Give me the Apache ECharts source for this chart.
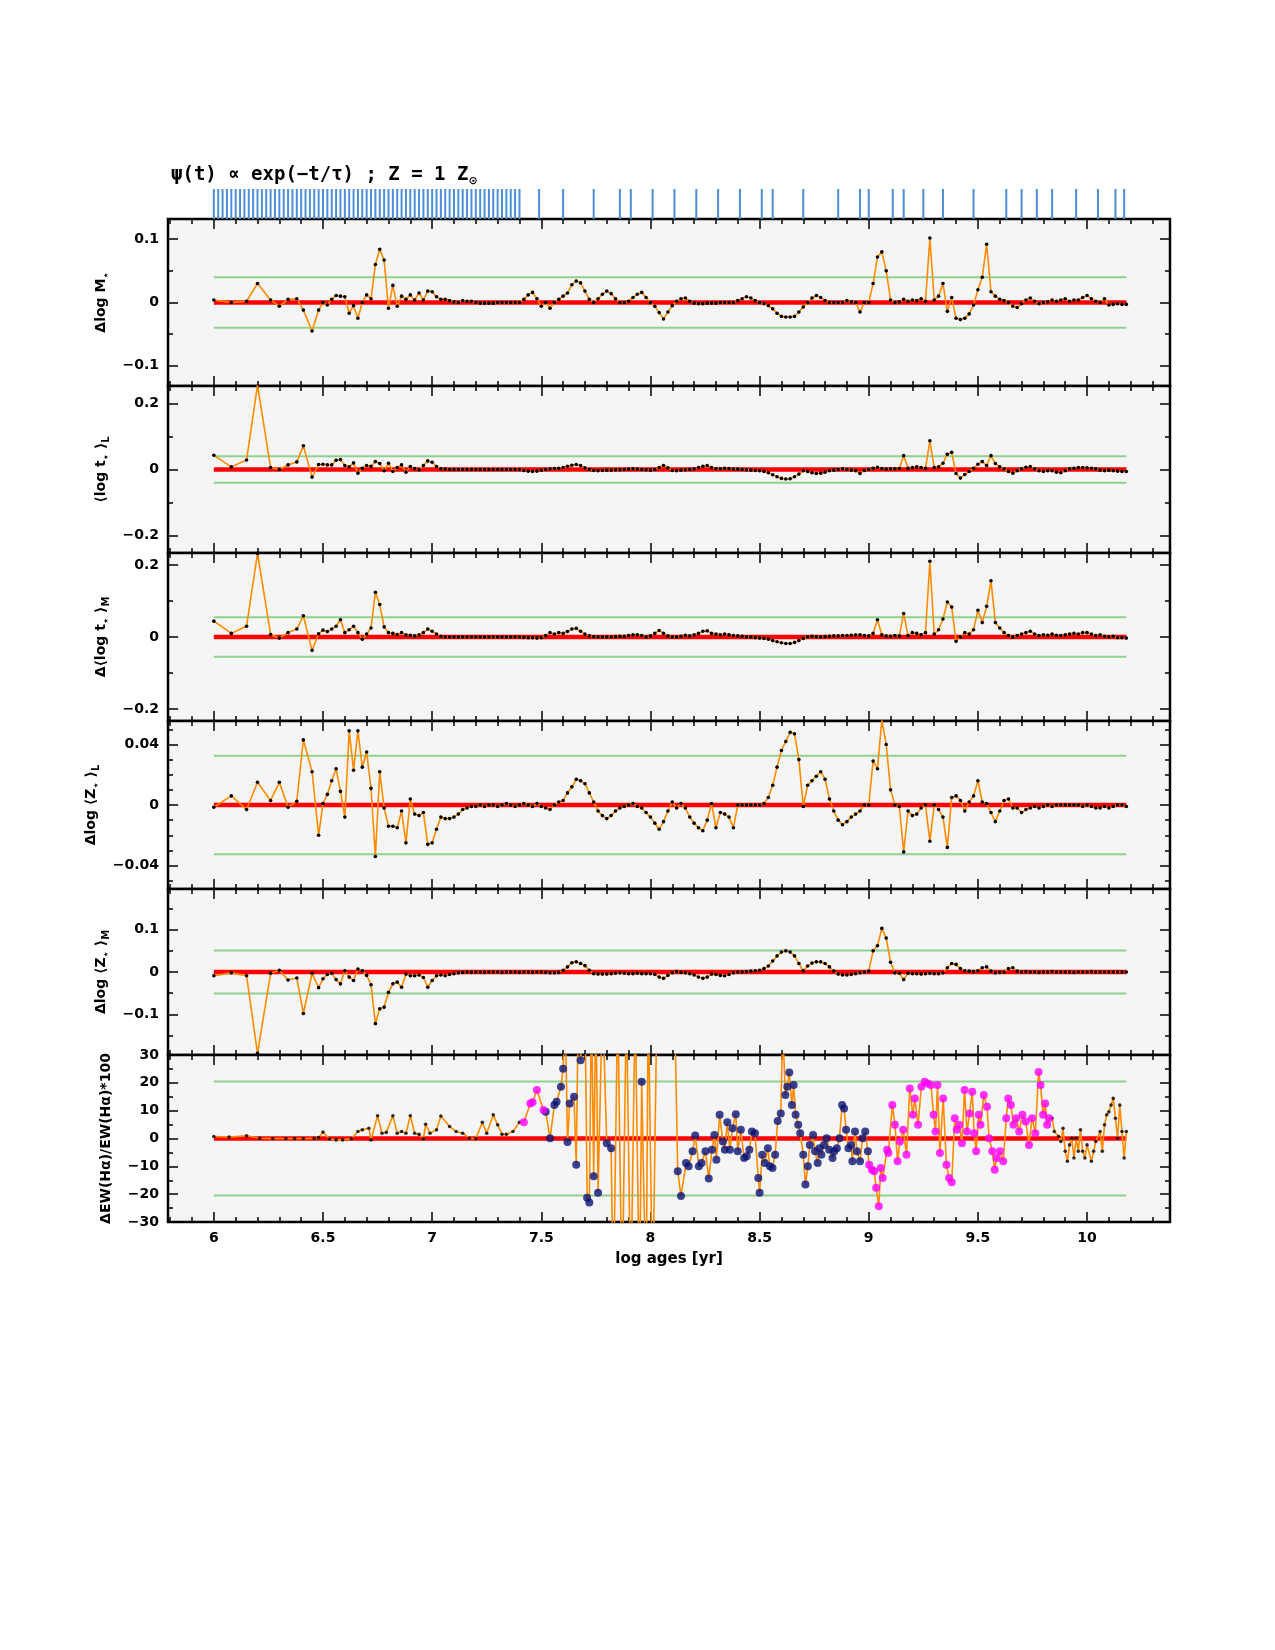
<!DOCTYPE html>
<html>
<head>
<meta charset="utf-8">
<script src="https://cdn.jsdelivr.net/npm/echarts@6/dist/echarts.min.js"></script>
<style>
  html, body { margin: 0; padding: 0; background: #fff; }
  #grafico { width: 1275px; height: 1650px; }
</style>
</head>
<body>
<div id="grafico"></div>
<script>
// Edades (log yr) comunes a los paneles 1-5
const ages = [6.00, 6.08, 6.15, 6.20, 6.26, 6.30, 6.34, 6.38, 6.41, 6.45, 6.48,
  6.50, 6.52, 6.54, 6.56, 6.58, 6.60, 6.62, 6.64, 6.66, 6.68,
  6.70, 6.72, 6.74, 6.76, 6.78, 6.80, 6.82, 6.84, 6.86, 6.88,
  6.90, 6.92, 6.94, 6.96, 6.98, 7.00, 7.02, 7.04, 7.06, 7.08,
  7.10, 7.12, 7.14, 7.16, 7.18, 7.20, 7.22, 7.24, 7.26, 7.28,
  7.30, 7.32, 7.34, 7.36, 7.38, 7.40, 7.42, 7.44, 7.46, 7.48,
  7.50, 7.52, 7.54, 7.56, 7.58, 7.60, 7.62, 7.64, 7.66, 7.68,
  7.70, 7.72, 7.74, 7.76, 7.78, 7.80, 7.82, 7.84, 7.86, 7.88,
  7.90, 7.92, 7.94, 7.96, 7.98, 8.00, 8.02, 8.04, 8.06, 8.08,
  8.10, 8.12, 8.14, 8.16, 8.18, 8.20, 8.22, 8.24, 8.26, 8.28,
  8.30, 8.32, 8.34, 8.36, 8.38, 8.40, 8.42, 8.44, 8.46, 8.48,
  8.50, 8.52, 8.54, 8.56, 8.58, 8.60, 8.62, 8.64, 8.66, 8.68,
  8.70, 8.72, 8.74, 8.76, 8.78, 8.80, 8.82, 8.84, 8.86, 8.88,
  8.90, 8.92, 8.94, 8.96, 8.98, 9.00, 9.02, 9.04, 9.06, 9.08,
  9.10, 9.12, 9.14, 9.16, 9.18, 9.20, 9.22, 9.24, 9.26, 9.28,
  9.30, 9.32, 9.34, 9.36, 9.38, 9.40, 9.42, 9.44, 9.46, 9.48,
  9.50, 9.52, 9.54, 9.56, 9.58, 9.60, 9.62, 9.64, 9.66, 9.68,
  9.70, 9.72, 9.74, 9.76, 9.78, 9.80, 9.82, 9.84, 9.86, 9.88,
  9.90, 9.92, 9.94, 9.96, 9.98, 10.00, 10.02, 10.04, 10.06, 10.08,
  10.10, 10.12, 10.14, 10.16, 10.18];

const dLogM = [0.004, 0.0, 0.002, 0.030, 0.004, -0.006, 0.005, 0.006, -0.012, -0.045, -0.012,
  0.0, -0.004, 0.005, 0.011, 0.010, 0.009, -0.017, -0.005, -0.025, 0.0,
  0.012, 0.006, 0.060, 0.084, 0.067, -0.009, 0.027, -0.006, 0.010, 0.005,
  0.012, 0.004, 0.015, 0.004, 0.018, 0.017, 0.009, 0.005, 0.005, 0.003,
  0.001, 0.0, 0.003, 0.002, 0.002, 0.0, -0.001, -0.001, -0.001, -0.001,
  0.0, 0.0, 0.0, 0.0, 0.0, 0.0, 0.005, 0.012, 0.016, 0.006,
  -0.006, 0.0, -0.009, 0.0, 0.005, 0.010, 0.015, 0.028, 0.034, 0.031,
  0.018, 0.005, 0.0, 0.006, 0.013, 0.018, 0.014, 0.006, 0.0, 0.0,
  0.002, 0.008, 0.013, 0.016, 0.008, 0.0, -0.006, -0.016, -0.026, -0.015,
  -0.005, 0.002, 0.006, 0.007, 0.002, -0.001, -0.002, -0.002, -0.001, -0.001,
  -0.001, 0.0, 0.0, 0.0, 0.0, 0.003, 0.006, 0.009, 0.007, 0.003,
  0.0, -0.002, -0.005, -0.010, -0.017, -0.022, -0.023, -0.023, -0.022, -0.015,
  -0.007, 0.0, 0.007, 0.011, 0.008, 0.003, 0.0, 0.0, 0.0, 0.0,
  0.003, 0.001, 0.0, -0.015, 0.0, 0.0, 0.030, 0.072, 0.080, 0.050,
  0.004, 0.0, 0.001, 0.005, 0.002, 0.004, 0.003, 0.006, 0.002, 0.102,
  0.004, 0.010, 0.030, -0.014, 0.008, -0.025, -0.027, -0.025, -0.018, -0.004,
  0.020, 0.040, 0.092, 0.017, 0.010, 0.005, 0.003, 0.0, -0.006, -0.008,
  -0.002, 0.004, 0.007, 0.002, -0.002, 0.0, 0.001, 0.004, 0.002, 0.004,
  0.006, 0.002, 0.004, 0.004, 0.008, 0.011, 0.006, 0.002, 0.0, 0.006,
  -0.004, -0.003, -0.002, -0.003, -0.003];

const logTL = [0.043, 0.008, 0.029, 0.256, 0.006, 0.0, 0.014, 0.023, 0.072, -0.023, 0.015,
  0.016, 0.014, 0.014, 0.028, 0.030, 0.012, 0.008, 0.020, -0.011, 0.004,
  0.012, 0.010, 0.024, 0.018, -0.004, 0.019, -0.006, 0.006, 0.014, -0.008,
  0.009, 0.003, -0.001, 0.012, 0.026, 0.022, 0.009, 0.002, 0.001, 0.0,
  0.0, 0.0, 0.0, 0.0, 0.0, 0.0, 0.0, 0.0, 0.0, 0.0,
  0.0, 0.0, 0.0, 0.0, 0.0, 0.0, -0.003, -0.005, -0.006, -0.005,
  -0.002, 0.0, 0.002, 0.003, 0.004, 0.006, 0.010, 0.013, 0.015, 0.012,
  0.005, 0.0, -0.003, -0.004, -0.003, -0.002, -0.002, -0.001, -0.001, 0.0,
  0.001, 0.002, 0.001, 0.0, -0.001, -0.002, 0.0, 0.006, 0.012, 0.005,
  -0.003, -0.004, -0.002, -0.001, 0.0, 0.002, 0.006, 0.010, 0.012, 0.006,
  0.002, 0.002, 0.004, 0.003, 0.001, 0.001, 0.0, -0.001, -0.002, -0.003,
  -0.004, -0.006, -0.010, -0.016, -0.022, -0.027, -0.029, -0.028, -0.022, -0.014,
  -0.004, -0.006, -0.010, -0.012, -0.011, -0.008, -0.004, -0.002, 0.0, 0.002,
  0.0, -0.002, -0.004, -0.012, -0.003, 0.0, 0.004, 0.007, 0.003, 0.001,
  0.002, 0.002, 0.003, 0.042, 0.004, 0.006, 0.008, 0.006, 0.004, 0.087,
  0.006, 0.008, 0.019, 0.046, 0.052, -0.012, -0.026, -0.015, -0.006, 0.004,
  0.016, 0.024, 0.012, 0.042, 0.018, 0.008, 0.002, -0.006, -0.011, -0.004,
  0.002, 0.007, 0.009, 0.002, -0.004, -0.006, -0.004, -0.004, -0.008, -0.010,
  -0.004, 0.002, 0.004, 0.006, 0.006, 0.005, 0.004, 0.002, -0.002, -0.004,
  -0.002, -0.004, -0.005, -0.006, -0.006];

const dLogTM = [0.044, 0.010, 0.030, 0.232, 0.007, -0.003, 0.012, 0.022, 0.059, -0.037, 0.009,
  0.019, 0.015, 0.022, 0.030, 0.048, 0.012, 0.020, 0.030, 0.012, -0.006,
  0.008, 0.025, 0.124, 0.090, 0.028, 0.012, 0.010, 0.007, 0.012, 0.006,
  0.005, 0.003, 0.006, 0.012, 0.022, 0.016, 0.008, 0.002, 0.0, 0.0,
  0.0, 0.0, 0.0, 0.0, 0.0, 0.0, 0.0, 0.0, 0.0, 0.0,
  0.0, 0.0, 0.0, 0.0, 0.0, 0.0, -0.001, -0.002, -0.002, -0.003,
  -0.002, 0.004, 0.012, 0.008, 0.012, 0.010, 0.015, 0.022, 0.024, 0.016,
  0.008, 0.003, 0.001, 0.0, 0.0, 0.0, 0.0, 0.001, 0.002, 0.002,
  0.004, 0.006, 0.006, 0.004, 0.0, 0.003, 0.010, 0.018, 0.010, 0.003,
  0.0, 0.0, 0.002, 0.005, 0.003, 0.006, 0.010, 0.016, 0.017, 0.010,
  0.008, 0.006, 0.008, 0.006, 0.004, 0.003, 0.002, 0.0, 0.0, -0.002,
  -0.003, -0.004, -0.006, -0.010, -0.013, -0.016, -0.018, -0.018, -0.015, -0.010,
  -0.004, 0.0, 0.002, 0.001, 0.0, 0.001, 0.002, 0.003, 0.003, 0.004,
  0.004, 0.005, 0.006, 0.006, 0.004, 0.003, 0.010, 0.048, 0.006, 0.003,
  0.002, 0.004, 0.003, 0.065, 0.004, 0.012, 0.010, 0.006, 0.012, 0.210,
  0.008, 0.020, 0.050, 0.097, 0.083, -0.012, 0.0, 0.012, 0.008, 0.020,
  0.074, 0.040, 0.085, 0.156, 0.040, 0.025, 0.012, 0.004, 0.0, 0.004,
  0.008, 0.012, 0.016, 0.008, 0.004, 0.006, 0.005, 0.008, 0.005, 0.004,
  0.006, 0.008, 0.010, 0.008, 0.012, 0.012, 0.008, 0.004, 0.006, 0.002,
  0.0, 0.002, -0.002, -0.002, -0.003];

const dLogZL = [-0.0015, 0.006, -0.003, 0.015, 0.003, 0.015, -0.0015, 0.0025, 0.043, 0.022, -0.020,
  0.001, 0.007, 0.016, 0.024, 0.009, -0.008, 0.049, 0.023, 0.049, 0.025,
  0.035, 0.011, -0.034, 0.022, -0.002, -0.014, -0.014, -0.015, -0.004, -0.025,
  0.004, -0.006, -0.007, -0.005, -0.026, -0.025, -0.016, -0.008, -0.009, -0.009,
  -0.008, -0.006, -0.003, -0.002, -0.001, -0.001, 0.0, -0.001, 0.0, 0.0,
  -0.001, 0.0, 0.001, 0.0, -0.001, 0.0, 0.001, 0.0, -0.001, 0.001,
  -0.001, -0.002, -0.003, 0.0, 0.002, 0.003, 0.008, 0.012, 0.017, 0.016,
  0.014, 0.008, 0.002, -0.004, -0.007, -0.009, -0.007, -0.004, -0.002, -0.001,
  0.0, 0.001, -0.001, -0.002, -0.005, -0.008, -0.012, -0.016, -0.011, -0.004,
  0.002, -0.002, 0.001, -0.002, -0.008, -0.012, -0.015, -0.017, -0.010, 0.001,
  -0.015, -0.005, -0.006, -0.008, -0.015, 0.0, 0.0, 0.0, 0.0, 0.0,
  0.0, 0.001, 0.005, 0.013, 0.025, 0.036, 0.042, 0.048, 0.047, 0.030,
  -0.001, 0.013, 0.016, 0.019, 0.022, 0.017, 0.004, -0.004, -0.010, -0.013,
  -0.011, -0.008, -0.006, -0.004, 0.0, 0.0, 0.029, 0.024, 0.056, 0.040,
  0.010, 0.0, -0.001, -0.031, -0.004, -0.007, -0.006, -0.002, 0.0, -0.024,
  0.0, -0.003, -0.008, -0.028, 0.005, 0.006, 0.003, -0.004, 0.002, 0.006,
  0.016, 0.002, 0.001, -0.005, -0.011, -0.004, 0.003, 0.004, -0.002, -0.002,
  -0.005, -0.003, -0.002, -0.001, -0.002, -0.001, 0.0, -0.001, 0.0, 0.0,
  0.0, 0.0, 0.0, 0.0, -0.001, 0.0, -0.001, -0.002, -0.002, -0.001,
  -0.002, -0.001, 0.0, 0.0, -0.001];

const dLogZM = [-0.009, -0.002, -0.009, -0.192, -0.003, 0.004, -0.019, -0.014, -0.098, -0.003, -0.037,
  -0.016, -0.006, -0.003, -0.018, -0.028, 0.003, -0.012, -0.020, 0.007, 0.003,
  -0.008, -0.030, -0.122, -0.087, -0.083, -0.048, -0.028, -0.024, -0.036, -0.005,
  -0.009, -0.009, -0.007, -0.013, -0.036, -0.020, -0.009, -0.007, -0.009, -0.006,
  -0.004, -0.002, -0.001, 0.0, -0.001, 0.0, 0.0, -0.001, 0.0, 0.0,
  0.0, -0.001, 0.0, 0.0, 0.0, -0.001, 0.0, 0.0, -0.001, 0.0,
  0.0, -0.001, -0.002, -0.002, -0.001, 0.004, 0.012, 0.022, 0.024, 0.020,
  0.015, 0.004, -0.004, -0.005, -0.005, -0.005, -0.004, -0.003, -0.002, -0.003,
  -0.004, -0.004, -0.003, -0.004, -0.004, -0.004, -0.006, -0.012, -0.015, -0.008,
  -0.002, 0.001, -0.001, -0.002, -0.004, -0.007, -0.012, -0.015, -0.012, -0.005,
  -0.006, -0.008, -0.009, -0.006, -0.002, 0.0, 0.0, 0.001, 0.002, 0.003,
  0.004, 0.008, 0.014, 0.026, 0.038, 0.047, 0.050, 0.047, 0.038, 0.020,
  0.003, 0.014, 0.021, 0.024, 0.024, 0.020, 0.012, 0.002, -0.005, -0.007,
  -0.007, -0.006, -0.004, -0.002, 0.0, 0.002, 0.050, 0.062, 0.103, 0.080,
  0.023, -0.002, -0.003, -0.018, -0.003, -0.004, -0.004, -0.005, -0.004, -0.003,
  -0.004, -0.004, -0.002, 0.010, 0.020, 0.018, 0.008, 0.003, 0.002, 0.001,
  0.003, 0.010, 0.012, 0.002, -0.002, -0.001, 0.0, 0.008, 0.010, 0.002,
  0.0, 0.001, 0.0, 0.0, -0.001, 0.0, 0.0, 0.001, 0.0, 0.0,
  0.0, 0.0, -0.001, 0.0, 0.0, 0.0, 0.001, 0.0, 0.0, 0.0,
  0.0, 0.0, 0.0, 0.0, 0.0];

// Panel 6: EW(Halpha); puntos negros, azul marino, magenta y fuera de escala
const ewBlackAges = [6.00, 6.07, 6.15, 6.21, 6.27, 6.33, 6.37, 6.41, 6.46, 6.48,
  6.50, 6.53, 6.56, 6.59, 6.63, 6.66, 6.68, 6.71, 6.72, 6.75,
  6.77, 6.79, 6.82, 6.84, 6.86, 6.88, 6.90, 6.92, 6.94, 6.96,
  6.97, 6.99, 7.02, 7.04, 7.08, 7.11, 7.14, 7.17, 7.20, 7.23,
  7.25, 7.28, 7.30, 7.32, 7.34, 7.37, 7.40,
  9.84, 9.85, 9.87, 9.88, 9.89, 9.90, 9.91, 9.92, 9.93, 9.94,
  9.95, 9.96, 9.97, 9.98, 9.99, 10.00, 10.02, 10.03, 10.04, 10.06,
  10.07, 10.08, 10.09, 10.10, 10.11, 10.12, 10.13, 10.14, 10.15, 10.16,
  10.17, 10.18];
const ewBlack = [0.7, 0.5, 1.0, 0.1, 0.0, 0.0, 0.0, 0.0, 0.0, 0.3,
  2.3, -0.2, -0.5, -0.5, -0.1, 2.5, 3.1, 3.7, -0.5, 8.2,
  1.9, 2.2, 8.2, 1.9, 2.5, 1.9, 8.2, 1.9, 1.5, -0.1,
  5.1, 1.9, 3.1, 8.1, 4.3, 2.5, 1.9, 0.1, -0.1, 5.8,
  1.9, 8.5, 4.9, 1.5, 1.5, 2.5, 5.8,
  7.3, 2.5, 0.7, -1.1, 3.7, -4.6, -8.2, -2.3, 0.1, -7.0,
  0.1, -4.6, 3.1, -4.6, -7.0, -2.3, -8.2, -4.6, -1.1, 2.5,
  -4.6, 4.9, 8.5, 9.6, 12.0, 14.4, 7.3, 0.1, 12.0, 2.5,
  -7.0, 2.5];

const ewNavyAges = [7.52, 7.54, 7.56, 7.57, 7.59, 7.60, 7.62, 7.63, 7.65, 7.66,
  7.68, 7.71, 7.72, 7.74, 7.76, 7.80, 7.82, 7.96,
  8.125, 8.14, 8.163, 8.175, 8.193, 8.205, 8.222, 8.234, 8.252, 8.267,
  8.282, 8.293, 8.302, 8.317, 8.332, 8.341, 8.352, 8.364, 8.376, 8.391,
  8.40, 8.414, 8.429, 8.441, 8.453, 8.465, 8.479, 8.494, 8.50, 8.512,
  8.524, 8.538, 8.547, 8.559, 8.571, 8.583, 8.597, 8.618, 8.627, 8.636,
  8.648, 8.656, 8.665, 8.677, 8.686, 8.70, 8.71, 8.721, 8.73, 8.745,
  8.754, 8.766, 8.774, 8.783, 8.795, 8.807, 8.819, 8.834, 8.842, 8.854,
  8.866, 8.878, 8.887, 8.896, 8.907, 8.919, 8.925, 8.937, 8.946, 8.96,
  8.972, 8.984, 8.996];
const ewNavy = [9.6, 0.1, 12.0, 13.2, 18.6, 25.1, -1.3, 12.6, 15.0, -9.4,
  28.1, -21.3, -23.0, -13.6, -19.5, -1.7, -3.5, 20.4,
  -11.8, -20.7, -8.8, -10.0, -4.6, 1.1, -10.0, -8.8, -4.6, -14.4,
  -4.0, 1.3, -7.6, 8.5, -1.1, -4.0, 5.8, -4.0, 3.7, 8.7,
  -4.6, 3.1, -7.0, -6.4, -4.0, 2.5, 1.9, -14.2, -19.5, -5.8,
  -8.8, -3.5, -10.0, -10.6, -5.8, 6.3, 9.0, 15.6, 18.6, 23.7,
  12.0, 19.2, 8.5, 4.9, 1.9, -5.8, -16.5, -10.0, -2.3, 1.3,
  -4.6, -8.8, -3.5, -5.8, -2.3, 0.1, -4.0, -7.0, -4.6, -3.5,
  0.1, 12.0, 10.8, 3.1, -3.5, -2.3, -8.2, 2.5, -4.6, -8.2,
  0.1, 2.5, -4.6];

const ewMagentaAges = [7.42, 7.45, 7.46, 7.48, 7.51,
  9.002, 9.014, 9.025, 9.034, 9.046, 9.055, 9.064, 9.084, 9.09, 9.108,
  9.12, 9.132, 9.143, 9.158, 9.173, 9.188, 9.202, 9.211, 9.226, 9.241,
  9.256, 9.27, 9.285, 9.297, 9.306, 9.315, 9.326, 9.341, 9.356, 9.368,
  9.38, 9.394, 9.403, 9.415, 9.427, 9.439, 9.45, 9.462, 9.474, 9.483,
  9.492, 9.504, 9.512, 9.527, 9.542, 9.551, 9.566, 9.577, 9.586, 9.601,
  9.616, 9.63, 9.639, 9.651, 9.663, 9.675, 9.689, 9.704, 9.719, 9.734,
  9.748, 9.763, 9.778, 9.787, 9.799, 9.808, 9.817, 9.826];
const ewMagenta = [5.8, 12.6, 13.0, 17.4, 10.2,
  -9.4, -11.2, -11.8, -17.7, -24.3, -10.6, -14.2, -4.0, -5.2, 12.0,
  4.9, -8.2, -1.1, 3.1, -5.8, 18.0, 8.5, 14.4, 4.9, 18.6,
  20.4, 19.8, 19.2, 8.5, 2.5, 19.2, -5.2, 14.4, -9.4, -14.2,
  -15.7, 7.3, 3.1, 4.9, -1.7, 17.4, 2.5, 9.0, 16.8, 1.9,
  -4.6, 8.5, 4.9, 15.6, 11.4, 0.1, -4.6, -11.2, -7.0, -4.6,
  -8.2, 7.3, 14.4, 12.0, 4.9, 7.3, 2.5, 8.5, 6.1, -2.3,
  7.3, 1.9, 23.9, 19.2, 8.5, 12.6, 4.9, 7.3];

const ewOffAges = [7.61, 7.67, 7.70, 7.73, 7.75, 7.78, 7.83, 7.85, 7.87, 7.89,
  7.91, 7.93, 7.95, 7.98, 7.99, 8.01, 8.03, 8.11, 8.606];
const ewOff = [45, 50, 50, 50, 50, 50, -60, 50, -60, 50,
  -60, 50, -60, -60, 50, -60, 50, 50, 40];

// Edades de la base (marcas azules arriba)
const baseAges = [6.00, 6.02, 6.04, 6.06, 6.08, 6.10, 6.12, 6.14, 6.16, 6.18,
  6.20, 6.22, 6.24, 6.26, 6.28, 6.30, 6.32, 6.34, 6.36, 6.38,
  6.40, 6.42, 6.44, 6.46, 6.48, 6.50, 6.52, 6.54, 6.56, 6.58,
  6.60, 6.62, 6.64, 6.66, 6.68, 6.70, 6.72, 6.74, 6.76, 6.78,
  6.80, 6.82, 6.84, 6.86, 6.88, 6.90, 6.92, 6.94, 6.96, 6.98,
  7.00, 7.02, 7.04, 7.06, 7.08, 7.10, 7.12, 7.14, 7.16, 7.18,
  7.20, 7.22, 7.24, 7.26, 7.28, 7.30, 7.32, 7.34, 7.36, 7.38, 7.40,
  7.49, 7.60, 7.74, 7.86, 7.91, 8.01, 8.11, 8.21, 8.31, 8.41,
  8.51, 8.56, 8.70, 8.86, 8.96, 9.00, 9.11, 9.16, 9.25, 9.34,
  9.48, 9.63, 9.70, 9.77, 9.84, 9.95, 10.05, 10.13, 10.17];

const xMajor = [6, 6.5, 7, 7.5, 8, 8.5, 9, 9.5, 10];
const xMinor = [5.8, 5.9, 6.1, 6.2, 6.3, 6.4, 6.6, 6.7, 6.8, 6.9, 7.1, 7.2, 7.3, 7.4,
  7.6, 7.7, 7.8, 7.9, 8.1, 8.2, 8.3, 8.4, 8.6, 8.7, 8.8, 8.9, 9.1, 9.2, 9.3, 9.4,
  9.6, 9.7, 9.8, 9.9, 10.1, 10.2, 10.3];

const yLimits = [0.132, 0.253, 0.233, 0.0555, 0.196, 30];
const yMajor = [[-0.1, 0, 0.1], [-0.2, 0, 0.2], [-0.2, 0, 0.2], [-0.04, 0, 0.04], [-0.1, 0, 0.1],
  [-30, -20, -10, 0, 10, 20, 30]];
const yMinor = [[-0.05, 0.05], [-0.1, 0.1], [-0.1, 0.1],
  [-0.05, -0.03, -0.02, -0.01, 0.01, 0.02, 0.03, 0.05], [-0.15, -0.05, 0.05, 0.15],
  [-25, -15, -5, 5, 15, 25]];
const greenLevels = [0.04, 0.04, 0.055, 0.0325, 0.051, 20.5];
const panelNames = ['{n|Δlog M}{s|⋆}', '{n|⟨log t}{s|⋆}{n| ⟩}{s|L}', '{n|Δ⟨log t}{s|⋆}{n| ⟩}{s|M}',
  '{n|Δlog ⟨Z}{s|⋆}{n| ⟩}{s|L}', '{n|Δlog ⟨Z}{s|⋆}{n| ⟩}{s|M}', '{n|ΔEW(Hα)/EW(Hα)*100}'];
const panelData = [dLogM, logTL, dLogTM, dLogZL, dLogZM];

const AGE_FIRST = 6.0, AGE_LAST = 10.18;
const XMIN = 5.79, XMAX = 10.38;
const LEFT = 168, RIGHT = 105;
const tops = [219, 386, 553, 721, 889, 1055];
const heights = [167, 167, 168, 168, 166, 167];

const fuenteBold = { fontFamily: 'DejaVu Sans', fontWeight: 'bold', color: '#000' };
const fmt = v => (v < 0 ? '−' + String(-v) : String(v));

const grids = [], xAxes = [], yAxes = [], series = [];

// franja con las marcas de la base
grids.push({ left: LEFT, right: RIGHT, top: 189, height: 30, show: false });
xAxes.push({ gridIndex: 0, type: 'value', min: XMIN, max: XMAX, show: false });
yAxes.push({ gridIndex: 0, type: 'value', min: 0, max: 1, show: false });
series.push({
  type: 'bar', xAxisIndex: 0, yAxisIndex: 0, barWidth: 2, silent: true,
  itemStyle: { color: '#4d8fd6' },
  data: baseAges.map(a => [a, 1])
});

for (let p = 0; p < 6; p++) {
  const g = p + 1;
  const isLast = p === 5;
  grids.push({
    left: LEFT, right: RIGHT, top: tops[p], height: heights[p], show: true,
    backgroundColor: '#f5f5f5', borderColor: '#000', borderWidth: 2.5
  });
  const xi = xAxes.length, yi = yAxes.length;

  [['bottom', xMajor, 10, true], ['bottom', xMinor, 5, false],
   ['top', xMajor, 10, false], ['top', xMinor, 5, false]].forEach(([pos, vals, len, lab]) => {
    const conEtiqueta = lab && isLast;
    xAxes.push({
      gridIndex: g, type: 'value', position: pos, min: XMIN, max: XMAX,
      axisLine: { show: false, onZero: false },
      splitLine: { show: false },
      axisTick: { inside: true, length: len, customValues: vals, lineStyle: { color: '#000', width: 1.5 } },
      axisLabel: conEtiqueta ? { ...fuenteBold, fontSize: 14, margin: 9, customValues: vals, formatter: fmt } : { show: false },
      name: conEtiqueta ? 'log ages [yr]' : '',
      nameLocation: 'middle', nameGap: 30,
      nameTextStyle: { ...fuenteBold, fontSize: 15 }
    });
  });

  const lim = yLimits[p];
  [['left', yMajor[p], 10, true], ['left', yMinor[p], 5, false],
   ['right', yMajor[p], 10, false], ['right', yMinor[p], 5, false]].forEach(([pos, vals, len, lab]) => {
    yAxes.push({
      gridIndex: g, type: 'value', position: pos, min: -lim, max: lim,
      axisLine: { show: false, onZero: false },
      splitLine: { show: false },
      axisTick: { inside: true, length: len, customValues: vals, lineStyle: { color: '#000', width: 1.5 } },
      axisLabel: lab ? { ...fuenteBold, fontSize: 14, margin: 9, customValues: vals, formatter: fmt } : { show: false },
      name: lab ? panelNames[p] : '',
      nameLocation: 'middle', nameRotate: 90, nameGap: 52,
      nameTextStyle: {
        rich: {
          n: { ...fuenteBold, fontSize: 14, lineHeight: 20 },
          s: { ...fuenteBold, fontSize: 10, lineHeight: 10, verticalAlign: 'bottom' }
        }
      }
    });
  });

  const ejes = { xAxisIndex: xi, yAxisIndex: yi };
  const gl = greenLevels[p];
  [gl, -gl].forEach(v => {
    series.push({
      type: 'line', ...ejes, silent: true, symbol: 'none', z: 1,
      lineStyle: { color: '#8fd28f', width: 2 },
      data: [[AGE_FIRST, v], [AGE_LAST, v]]
    });
  });
  series.push({
    type: 'line', ...ejes, silent: true, symbol: 'none', z: 2,
    lineStyle: { color: '#ff0000', width: 4.5 },
    data: [[AGE_FIRST, 0], [AGE_LAST, 0]]
  });

  if (!isLast) {
    series.push({
      type: 'line', ...ejes, silent: true, z: 3,
      symbol: 'circle', symbolSize: 3.6,
      itemStyle: { color: '#000' },
      lineStyle: { color: '#ff8a00', width: 1.6 },
      data: ages.map((a, i) => [a, panelData[p][i]])
    });
  } else {
    const todos = [];
    ewBlackAges.forEach((a, i) => todos.push([a, ewBlack[i]]));
    ewNavyAges.forEach((a, i) => todos.push([a, ewNavy[i]]));
    ewMagentaAges.forEach((a, i) => todos.push([a, ewMagenta[i]]));
    ewOffAges.forEach((a, i) => todos.push([a, ewOff[i]]));
    todos.sort((a, b) => a[0] - b[0]);
    series.push({
      type: 'line', ...ejes, silent: true, z: 3, symbol: 'none', clip: true,
      lineStyle: { color: '#ff8a00', width: 1.6 },
      data: todos
    });
    series.push({
      type: 'scatter', ...ejes, silent: true, z: 4, symbolSize: 3.6,
      itemStyle: { color: '#000' },
      data: ewBlackAges.map((a, i) => [a, ewBlack[i]])
    });
    series.push({
      type: 'scatter', ...ejes, silent: true, z: 4, symbolSize: 8,
      itemStyle: { color: '#0a1478' },
      data: ewNavyAges.map((a, i) => [a, ewNavy[i]])
    });
    series.push({
      type: 'scatter', ...ejes, silent: true, z: 4, symbolSize: 8,
      itemStyle: { color: '#ff00ff' },
      data: ewMagentaAges.map((a, i) => [a, ewMagenta[i]])
    });
  }
}

const chart = echarts.init(document.getElementById('grafico'));
chart.setOption({
  animation: false,
  backgroundColor: '#fff',
  title: {
    left: 166, top: 158,
    text: '{m|ψ(t) ∝ exp(−t/τ) ; Z = 1 Z}{s|⊙}',
    textStyle: {
      rich: {
        m: { fontFamily: 'DejaVu Sans Mono', fontWeight: 'bold', fontSize: 19, lineHeight: 24, color: '#000' },
        s: { fontFamily: 'DejaVu Sans', fontWeight: 'bold', fontSize: 11, lineHeight: 11, verticalAlign: 'bottom', color: '#000' }
      }
    }
  },
  grid: grids,
  xAxis: xAxes,
  yAxis: yAxes,
  series: series
});
</script>
</body>
</html>
